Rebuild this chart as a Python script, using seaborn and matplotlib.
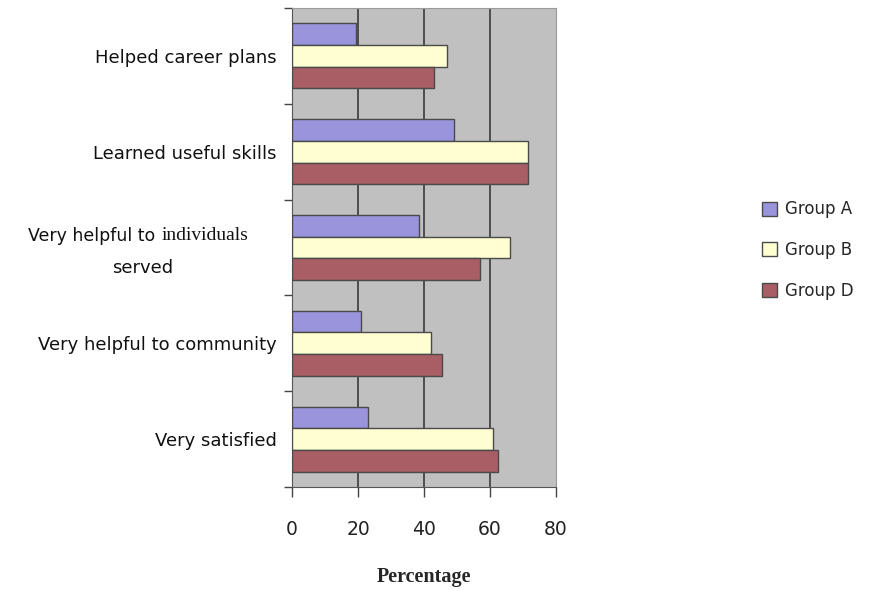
import matplotlib
matplotlib.use("Agg")
import matplotlib.pyplot as plt
import pandas as pd
import seaborn as sns

categories = ["Helped career plans", "Learned useful skills",
              "Very helpful to individuals served", "Very helpful to community",
              "Very satisfied"]
groups = ["Group A", "Group B", "Group D"]
group_a = [19.5, 49, 38.5, 21, 23]
group_b = [47, 71.5, 66, 42, 61]
group_d = [43, 71.5, 57, 45.5, 62.5]
x_ticks = [0, 20, 40, 60, 80]

rows = []
for g, vals in zip(groups, [group_a, group_b, group_d]):
    for c, v in zip(categories, vals):
        rows.append({"cat": c, "group": g, "pct": v})
df = pd.DataFrame(rows)

colors = ["#9a94dc", "#ffffd2", "#a85e64"]

sns.set_style("white")
plt.rcParams["font.family"] = ["DejaVu Sans"]
fig = plt.figure(figsize=(8.81, 5.91), dpi=100)
ax = fig.add_axes([292 / 881, 1 - 487 / 591, 264 / 881, 479 / 591])
ax.set_facecolor("#c0c0c0")

sns.barplot(data=df, y="cat", x="pct", hue="group", hue_order=groups,
            order=categories, palette=colors, orient="h", width=0.68,
            edgecolor="#4a4a4a", linewidth=1.0, saturation=1, ax=ax, zorder=3)

ax.set_xlim(0, 80)
ax.set_ylim(4.5, -0.5)
ax.set_xticks(x_ticks)
ax.set_xticklabels([str(t) for t in x_ticks], fontsize=13.5, color="#222222")
ax.tick_params(axis="x", bottom=True, length=7, width=1, color="#444444",
               direction="out", pad=17)
for t in x_ticks[1:-1]:
    ax.axvline(t, color="#3a3a3a", lw=1.2, zorder=1)

ax.set_yticks(range(len(categories)))
labels = list(categories)
labels[2] = ""
ax.set_yticklabels(labels, fontsize=13, color="#111111")
ax.tick_params(axis="y", which="major", left=False, length=0, pad=11)
ax.set_yticks([i - 0.5 for i in range(len(categories) + 1)], minor=True)
ax.tick_params(axis="y", which="minor", left=True, length=6, width=1, color="#444444")

fig.text(161 / 881, 1 - 236 / 591, "Very helpful to ", ha="right", va="center",
         fontsize=12.5, color="#111111")
fig.text(162 / 881, 1 - 236 / 591, "individuals", ha="left", va="center",
         fontsize=14, family="Liberation Serif", color="#111111")
fig.text(143 / 881, 1 - 268 / 591, "served", ha="center", va="center",
         fontsize=13, color="#111111")

for s in ["top", "right"]:
    ax.spines[s].set_color("#9a9a9a")
for s in ["left", "bottom"]:
    ax.spines[s].set_color("#555555")

ax.set_ylabel("")
ax.set_xlabel("Percentage", fontsize=14.5, family="Liberation Serif",
              fontweight="bold", labelpad=20)

ax.get_legend().remove()
handles, lbls = ax.get_legend_handles_labels()
fig.legend(handles, lbls, loc="center left", bbox_to_anchor=(747 / 881, 1 - 250 / 591),
           frameon=False, fontsize=12, handlelength=0.9, handleheight=0.9,
           labelspacing=1.35, handletextpad=0.5)

fig.savefig("out.png", dpi=100)
